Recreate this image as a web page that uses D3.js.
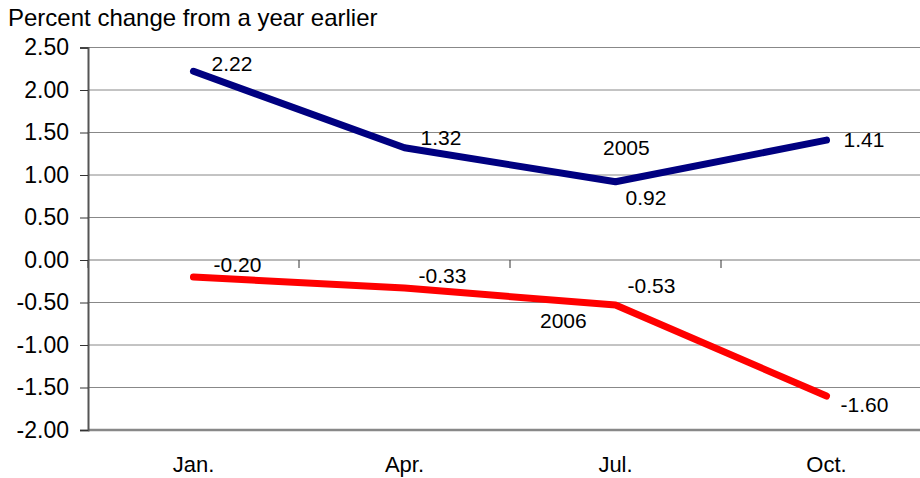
<!DOCTYPE html>
<meta charset="utf-8">
<body style="margin:0;background:#fff">
<style>
text { font-family: Arial, "Liberation Sans", sans-serif; fill: #000; }
</style>
<script src="https://d3js.org/d3.v7.min.js"></script>
<script>
var quarters = ["Jan.", "Apr.", "Jul.", "Oct."];
var yTicks = [2.5, 2, 1.5, 1, 0.5, 0, -0.5, -1, -1.5, -2];
var values2005 = [2.22, 1.32, 0.92, 1.41];
var values2006 = [-0.20, -0.33, -0.53, -1.60];
var seriesNames = ["2005", "2006"];

// label nudges (px, to text baseline) relative to each point
var off2005 = [[18, 0], [16, -3], [10, 23], [17, 7]];
var off2006 = [[20, -5], [14, -5], [12, -12], [14, 16]];

var fmt = d3.formatLocale({decimal: ".", thousands: ",", grouping: [3], currency: ["$", ""], minus: "-"}).format(".2f");

var width = 920, height = 478;
var svg = d3.select("body").append("svg").attr("width", width).attr("height", height);

var left = 88, step = 211;
var x = d3.scalePoint().domain(quarters).range([left + step / 2, left + step * 3.5]);
var y = d3.scaleLinear().domain([-2, 2.5]).range([430, 47.5]);

svg.append("text").attr("x", 8).attr("y", 26).style("font-size", "24px")
  .text("Percent change from a year earlier");

// gridlines
svg.selectAll("line.grid").data(yTicks.filter(function(d){ return d > -2; }))
  .enter().append("line")
  .attr("x1", left).attr("x2", width)
  .attr("y1", function(d){ return y(d); }).attr("y2", function(d){ return y(d); })
  .attr("stroke", function(d){ return d === 0 ? "#777" : "#888"; }).attr("stroke-width", 1);

// bottom axis line
svg.append("line").attr("x1", left).attr("x2", width).attr("y1", y(-2)).attr("y2", y(-2))
  .attr("stroke", "#888").attr("stroke-width", 2.5);

// category ticks on zero line
svg.selectAll("line.ct").data(d3.range(0, 5)).enter().append("line")
  .attr("x1", function(i){ return left + i * step; }).attr("x2", function(i){ return left + i * step; })
  .attr("y1", y(0)).attr("y2", y(0) + 8).attr("stroke", "#333").attr("stroke-width", 1);

// y axis
var yAxis = svg.append("g").attr("transform", "translate(" + left + ",0)")
  .call(d3.axisLeft(y).tickValues(yTicks).tickFormat(fmt).tickSize(8).tickPadding(11));
yAxis.attr("font-family", null).attr("font-size", null);
yAxis.select(".domain").attr("stroke", "#555").attr("stroke-width", 2);
yAxis.selectAll(".tick line").attr("stroke", "#333");
yAxis.selectAll("text").style("font-size", "23px").attr("fill", "#000");

// x labels
svg.selectAll("text.xl").data(quarters).enter().append("text")
  .attr("x", function(d){ return x(d); }).attr("y", 472)
  .attr("text-anchor", "middle").style("font-size", "22px").text(function(d){ return d; });

var line = d3.line().x(function(d, i){ return x(quarters[i]); }).y(function(d){ return y(d); });

function drawSeries(vals, color, offs) {
  svg.append("path").datum(vals).attr("d", line).attr("fill", "none")
    .attr("stroke", color).attr("stroke-width", 7)
    .attr("stroke-linecap", "round").attr("stroke-linejoin", "round");
  svg.selectAll(null).data(vals).enter().append("text")
    .attr("x", function(d, i){ return x(quarters[i]) + offs[i][0]; })
    .attr("y", function(d, i){ return y(d) + offs[i][1]; })
    .style("font-size", "21px")
    .text(function(d){ return fmt(d); });
}
drawSeries(values2005, "#000080", off2005);
drawSeries(values2006, "#ff0000", off2006);

// series name labels
svg.append("text").attr("x", 603).attr("y", 155).style("font-size", "21px").text(seriesNames[0]);
svg.append("text").attr("x", 540).attr("y", 328).style("font-size", "21px").text(seriesNames[1]);
</script>
</body>
